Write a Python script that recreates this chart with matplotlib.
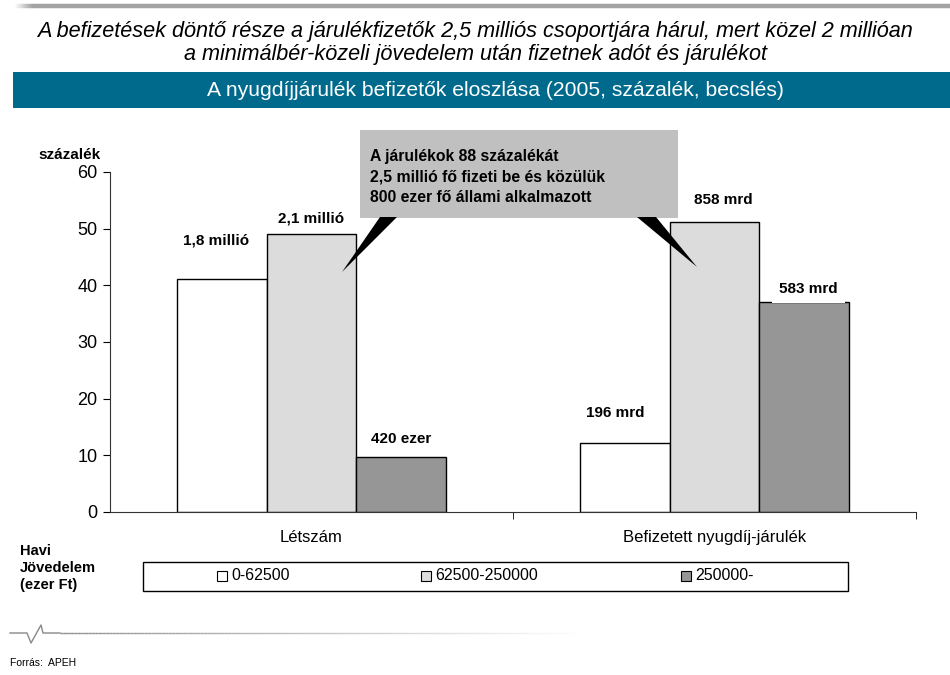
import numpy as np
import matplotlib
matplotlib.use("Agg")
import matplotlib.pyplot as plt
from matplotlib.patches import Rectangle, Polygon
from matplotlib.collections import LineCollection

# ---------------- data ----------------
categories = ["Létszám", "Befizetett nyugdíj-járulék"]
income_groups = ["0-62500", "62500-250000", "250000-"]
share_low = [41.2, 12.1]      # 0-62500
share_mid = [49.1, 51.2]      # 62500-250000
share_high = [9.7, 37.0]      # 250000-
labels_low = ["1,8 millió", "196 mrd"]
labels_mid = ["2,1 millió", "858 mrd"]
labels_high = ["420 ezer", "583 mrd"]
yticks = [0, 10, 20, 30, 40, 50, 60]

title = ("A befizetések döntő része a járulékfizetők 2,5 milliós csoportjára hárul, mert közel 2 millióan\n"
         "a minimálbér-közeli jövedelem után fizetnek adót és járulékot")
banner = "A nyugdíjjárulék befizetők eloszlása (2005, százalék, becslés)"
callout = ("A járulékok 88 százalékát\n"
           "2,5 millió fő fizeti be és közülük\n"
           "800 ezer fő állami alkalmazott")

plt.rcParams["font.family"] = ["Liberation Sans", "DejaVu Sans"]

W, H = 950, 675
fig = plt.figure(figsize=(9.5, 6.75), dpi=100)


def fx(x):
    return x / W


def fy(y):
    return 1 - y / H


def fade_line(x0, x1, y, rgb, lw, alpha_of, n=150):
    xs = np.linspace(x0, x1, n)
    segs = [[(fx(a), fy(y)), (fx(b), fy(y))] for a, b in zip(xs[:-1], xs[1:])]
    cols = [rgb + (alpha_of(a),) for a in xs[:-1]]
    fig.add_artist(LineCollection(segs, colors=cols, linewidths=lw, capstyle="butt",
                                  transform=fig.transFigure, zorder=3))


# ---------------- header ----------------
# grey rule along the top, fading in at the left end
fade_line(14, 32, 6, (0.64, 0.64, 0.64), 3.2, lambda a: (a - 14) / 18, n=20)
fig.add_artist(plt.Line2D([fx(32), fx(950)], [fy(6), fy(6)], transform=fig.transFigure,
                          color="#a3a3a3", lw=3.2, solid_capstyle="butt", zorder=3))

fig.text(0.5, fy(43), title, ha="center", va="center", style="italic",
         fontsize=15.6, linespacing=1.12)

fig.add_artist(Rectangle((fx(13), fy(108)), fx(950 - 13), (108 - 72) / H,
                         transform=fig.transFigure, color="#006A8D", lw=0))
fig.text(fx(495), fy(90), banner, ha="center", va="center", color="white", fontsize=15.2)

# ---------------- bars ----------------
ax = fig.add_axes([fx(110), fy(512), fx(916 - 110), (512 - 172) / H])
x = np.arange(len(categories))
bw = 0.223
colors = ["white", "#dcdcdc", "#969696"]
series = [share_low, share_mid, share_high]
for i, (vals, c) in enumerate(zip(series, colors)):
    ax.bar(x + (i - 1) * bw, vals, bw, color=c, edgecolor="black", lw=1.0, zorder=2)

ax.set_xlim(-0.5, 1.5)
ax.set_ylim(0, 60)
ax.set_yticks(yticks)
ax.tick_params(axis="y", labelsize=13, length=5, direction="out", pad=4)
ax.set_xticks(x)
ax.set_xticklabels(categories, fontsize=12)
ax.tick_params(axis="x", length=0, pad=13)
ax.set_xticks([0.5, 1.5], minor=True)
ax.tick_params(axis="x", which="minor", length=5, direction="out")
for s in ["top", "right"]:
    ax.spines[s].set_visible(False)
ax.spines["left"].set_color("#333333")
ax.spines["bottom"].set_color("#333333")

# value labels (pixel offsets from bar top centre)
all_labels = [labels_low, labels_mid, labels_high]
offsets = [[(-6, 38), (-9, 30)], [(0, 15), (9, 22)], [(0, 18), (4, 13)]]
for i, (vals, labs) in enumerate(zip(series, all_labels)):
    for j in range(len(categories)):
        dx, dy = offsets[i][j]
        ax.annotate(labs[j], (x[j] + (i - 1) * bw, vals[j]), xytext=(dx * 0.72, dy * 0.72),
                    textcoords="offset points", ha="center", va="center",
                    fontsize=11, fontweight="bold", zorder=4,
                    bbox=dict(boxstyle="square,pad=0.45", fc="white", ec="none"))

fig.text(fx(70), fy(155), "százalék", ha="center", va="center", fontsize=11, fontweight="bold")

# ---------------- callout ----------------
fig.add_artist(Rectangle((fx(360), fy(218)), fx(678 - 360), (218 - 130) / H,
                         transform=fig.transFigure, color="#c0c0c0", lw=0, zorder=5))
fig.add_artist(Polygon([(fx(380), fy(217)), (fx(397), fy(217)), (fx(342), fy(272))],
                       closed=True, transform=fig.transFigure, color="black", lw=0, zorder=5))
fig.add_artist(Polygon([(fx(637), fy(217)), (fx(656), fy(217)), (fx(697), fy(267))],
                       closed=True, transform=fig.transFigure, color="black", lw=0, zorder=5))
fig.text(fx(370), fy(177), callout, ha="left", va="center", fontsize=11.3,
         fontweight="bold", linespacing=1.42, zorder=6)

# ---------------- legend ----------------
fig.add_artist(Rectangle((fx(143), fy(591)), fx(848 - 143), (591 - 562) / H,
                         transform=fig.transFigure, fc="white", ec="black", lw=1.0))
leg_x = [222, 426, 686]
for lx, name, c in zip(leg_x, income_groups, colors):
    fig.add_artist(Rectangle((fx(lx - 5), fy(581)), fx(10), 10 / H, transform=fig.transFigure,
                             fc=c, ec="black", lw=0.8))
    fig.text(fx(lx + 9), fy(576), name, ha="left", va="center", fontsize=11.5)

fig.text(fx(20), fy(568), "Havi\nJövedelem\n(ezer Ft)", ha="left", va="center",
         fontsize=10.5, fontweight="bold", linespacing=1.3)

# ---------------- footer ----------------
zig = [(10, 633), (27, 633), (31, 643), (41, 625), (43, 633), (60, 633)]
fig.add_artist(plt.Line2D([fx(p[0]) for p in zig], [fy(p[1]) for p in zig],
                          transform=fig.transFigure, color="#888888", lw=1.0))
fade_line(60, 580, 633, (0.55, 0.55, 0.55), 1.0, lambda a: max(0.0, 1 - (a - 60) / 520))

fig.text(fx(10), fy(663), "Forrás:  APEH", ha="left", va="center", fontsize=7.5)

fig.savefig("out.png", dpi=100)
